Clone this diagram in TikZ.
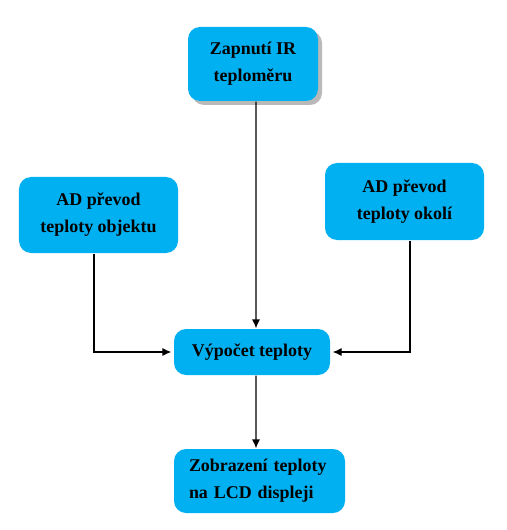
\documentclass[tikz,border=0pt]{standalone}
\usepackage{fontspec}
\setmainfont{Liberation Serif}
\usetikzlibrary{arrows.meta,shadows}

\definecolor{boxblue}{HTML}{00B0F0}

\begin{document}
\begin{tikzpicture}[>={Latex[length=9bp,width=8bp]}, x=1bp, y=-1bp, line width=1.2bp,
    blok/.style={rectangle, rounded corners=12bp, fill=boxblue, draw=none, inner sep=0pt,
                 align=center, font=\bfseries\fontsize{18}{27}\selectfont}]
    \useasboundingbox (0,0) rectangle (507,530);

    % Nodes {zapnuti, levy, pravy, vypocet, zobrazeni}
    \node [blok, minimum width=130bp, minimum height=74bp,
           drop shadow={shadow xshift=4bp, shadow yshift=-4bp, fill=gray!55, opacity=1}]
                                 (zapnuti)   at (253,64)    {Zapnutí IR\\teploměru};
    \node [blok, minimum width=159bp, minimum height=76bp]
                                 (levy)      at (98.5,215)  {AD převod\\teploty objektu};
    \node [blok, minimum width=159bp, minimum height=77bp]
                                 (pravy)     at (404.5,201.5) {AD převod\\teploty okolí};
    \node [blok, minimum width=156bp, minimum height=46bp]
                                 (vypocet)   at (252,352)   {Výpočet teploty};
    \node [blok, minimum width=171bp, minimum height=64bp, align=left, text width=141bp]
                                 (zobrazeni) at (259.5,481) {Zobrazení teploty\\na LCD displeji};

    % Paths
    \draw [->] ([xshift=3bp]zapnuti.south) -- ([xshift=4bp]vypocet.north);
    \draw [->] ([xshift=-4.5bp]levy.south) |- ([xshift=-2bp]vypocet.west);
    \draw [->] ([xshift=5.5bp]pravy.south) |- ([xshift=2bp]vypocet.east);
    \draw [->] ([xshift=4bp]vypocet.south) -- ([xshift=-3.5bp]zobrazeni.north);
\end{tikzpicture}
\end{document}
